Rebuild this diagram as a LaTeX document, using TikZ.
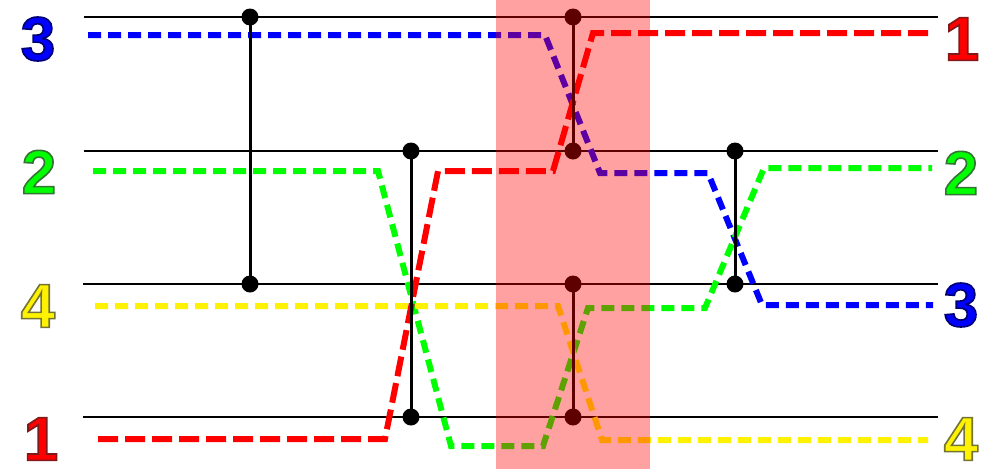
\documentclass[tikz,border=0pt]{standalone}
\usepackage{fontspec}
\setmainfont{Liberation Sans}
% #1 fill colour, #2 outline colour as "r g b", #3 text
\newcommand\olab[3]{\textcolor{#1}{\special{pdf:literal direct #2 RG 1.6 w 2 Tr}#3\special{pdf:literal direct 0 Tr}}}
\begin{document}
\begin{tikzpicture}[x=1pt,y=-1pt,
  wire/.style={line width=2pt,black},
  comp/.style={line width=3pt,black},
  dot/.style={circle,fill=black,inner sep=0pt,minimum size=17pt},
  trace/.style={line width=6pt,dash pattern=on 13pt off 7pt},
  redtrace/.style={line width=6pt,dash pattern=on 20pt off 7pt},
  lab/.style={font=\bfseries\fontsize{62}{62}\selectfont,inner sep=0pt}]
\useasboundingbox (0,0) rectangle (998,469);
% wires
\coordinate (w1l) at (84,17);  \coordinate (w1r) at (938,17);
\coordinate (w2l) at (84,151); \coordinate (w2r) at (938,151);
\coordinate (w3l) at (83,284); \coordinate (w3r) at (938,284);
\coordinate (w4l) at (83,417); \coordinate (w4r) at (938,417);
\draw[wire] (w1l) -- (w1r);
\draw[wire] (w2l) -- (w2r);
\draw[wire] (w3l) -- (w3r);
\draw[wire] (w4l) -- (w4r);
% comparator endpoints
\coordinate (c1a) at (250,17);  \coordinate (c1b) at (250,284);
\coordinate (c2a) at (411,151); \coordinate (c2b) at (411,417);
\coordinate (c3a) at (573,17);  \coordinate (c3b) at (573,151);
\coordinate (c4a) at (573,284); \coordinate (c4b) at (573,417);
\coordinate (c5a) at (735,151); \coordinate (c5b) at (735,284);
% traces
\draw[trace,blue] (88,35) -- (545,35) -- (600,173) -- (708,173) -- (762,305) -- (933,305);
\draw[trace,green] (93,171) -- (378,171) -- (451,446) -- (543,446) -- (588,308) -- (705,308) -- (764,168) -- (932,168);
\draw[trace,yellow] (95,306) -- (558,306) -- (602,440) -- (928,440);
\draw[redtrace,red] (98,439) -- (385,439) -- (438,171) -- (553,171) -- (593,33) -- (932,33);
% comparators
\foreach \a/\b in {c1a/c1b,c2a/c2b,c3a/c3b,c4a/c4b,c5a/c5b}{
  \draw[comp] (\a) -- (\b);
}
\foreach \c in {c1a,c1b,c2a,c2b,c3a,c3b,c4a,c4b,c5a,c5b}{
  \node[dot] (d\c) at (\c) {};
}
% labels
\node[lab] (l3) at (38,39)  {\olab{blue}{0 0 0.45}{3}};
\node[lab] (l2) at (39,172) {\olab{green}{0.2 0.45 0.2}{2}};
\node[lab] (l4) at (38,306) {\olab{yellow}{0.45 0.45 0.2}{4}};
\node[lab] (l1) at (41,439) {\olab{red}{0.5 0.1 0.1}{1}};
\node[lab] (r1) at (962,39)  {\olab{red}{0.5 0.1 0.1}{1}};
\node[lab] (r2) at (961,173) {\olab{green}{0.2 0.45 0.2}{2}};
\node[lab] (r3) at (961,305) {\olab{blue}{0 0 0.45}{3}};
\node[lab] (r4) at (961,439) {\olab{yellow}{0.45 0.45 0.2}{4}};
% highlighted layer
\fill[red,opacity=0.37] (496,0) rectangle (650,469);
\end{tikzpicture}
\end{document}
